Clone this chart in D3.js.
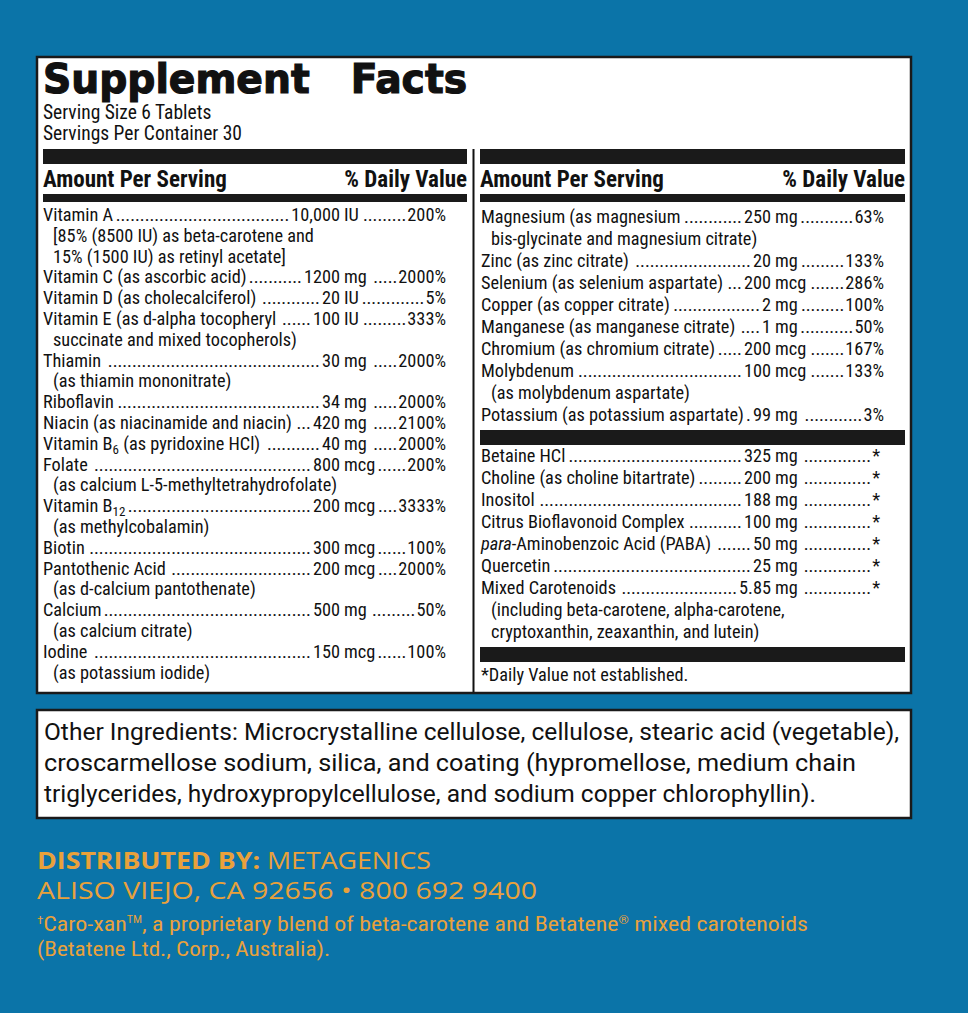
<!DOCTYPE html>
<html><head><meta charset="utf-8">
<script src="https://cdn.jsdelivr.net/npm/d3@7"></script>
<style>body{margin:0;background:#0b74a8;}svg{display:block}</style>
</head><body><svg id="c" width="968" height="1013"></svg>
<script>
const FONT = "'Liberation Sans Narrow','Roboto Condensed',Roboto,sans-serif";
const FS = 18.3;
const leftNames = ["Vitamin A","Vitamin C (as ascorbic acid)","Vitamin D (as cholecalciferol)","Vitamin E (as d-alpha tocopheryl","Thiamin ","Riboflavin","Niacin (as niacinamide and niacin)","Vitamin B_6_ (as pyridoxine HCl)","Folate ","Vitamin B_12_","Biotin","Pantothenic Acid","Calcium ","Iodine "];
const leftAmounts = ["10,000","1200","20","100","30","34","420","40","800","200","300","200","500","150"];
const leftUnits = ["IU","mg","IU","IU","mg","mg","mg","mg","mcg","mcg","mcg","mcg","mg","mcg"];
const leftDV = ["200%","2000%","5%","333%","2000%","2000%","2100%","2000%","200%","3333%","100%","2000%","50%","100%"];
const leftNotes = [["[85% (8500 IU) as beta-carotene and","15% (1500 IU) as retinyl acetate]"],[],[],["succinate and mixed tocopherols)"],["(as thiamin mononitrate)"],[],[],[],["(as calcium L-5-methyltetrahydrofolate)"],["(as methylcobalamin)"],[],["(as d-calcium pantothenate)"],["(as calcium citrate)"],["(as potassium iodide)"]];
const rightNames = ["Magnesium (as magnesium","Zinc (as zinc citrate) ","Selenium (as selenium aspartate)","Copper (as copper citrate) ","Manganese (as manganese citrate)","Chromium (as chromium citrate)","Molybdenum","Potassium (as potassium aspartate)"];
const rightAmounts = ["250","20","200","2","1","200","100","99"];
const rightUnits = ["mg","mg","mcg","mg","mg","mcg","mcg","mg"];
const rightDV = ["63%","133%","286%","100%","50%","167%","133%","3%"];
const rightNotes = [["bis-glycinate and magnesium citrate)"],[],[],[],[],[],["(as molybdenum aspartate)"],[]];
const otherNames = ["Betaine HCl","Choline (as choline bitartrate) ","Inositol","Citrus Bioflavonoid Complex ","*para*-Aminobenzoic Acid (PABA)","Quercetin","Mixed Carotenoids"];
const otherAmounts = ["325","200","188","100","50","25","5.85"];
const otherUnits = ["mg","mg","mg","mg","mg","mg","mg"];
const otherDV = ["*","*","*","*","*","*","*"];
const otherNotes = [[],[],[],[],[],[],["(including beta-carotene, alpha-carotene,","cryptoxanthin, zeaxanthin, and lutein)"]];
const otherIngredients = ["Other Ingredients: Microcrystalline cellulose, cellulose, stearic acid (vegetable),","croscarmellose sodium, silica, and coating (hypromellose, medium chain","triglycerides, hydroxypropylcellulose, and sodium copper chlorophyllin)."];

const svg = d3.select("#c");
svg.append("rect").attr("width",968).attr("height",1013).attr("fill","#0b74a8");
svg.append("rect").attr("x",37).attr("y",57).attr("width",874).attr("height",636).attr("fill","#fff").attr("stroke","#1a1a1a").attr("stroke-width",2.5);
svg.append("text").attr("x",43).attr("y",93).attr("font-family","'DejaVu Sans',sans-serif").attr("font-weight","bold").attr("font-size",40).attr("fill","#111").attr("stroke","#111").attr("stroke-width",1.2).attr("textLength",424).attr("lengthAdjust","spacingAndGlyphs").text("Supplement\u00a0\u00a0\u00a0Facts");
svg.append("text").attr("x",43).attr("y",119).attr("font-family",FONT).attr("font-size",19.5).attr("fill","#111").text("Serving Size 6 Tablets");
svg.append("text").attr("x",43).attr("y",140).attr("font-family",FONT).attr("font-size",19.5).attr("fill","#111").text("Servings Per Container 30");
svg.append("line").attr("x1",473.5).attr("x2",473.5).attr("y1",149).attr("y2",692).attr("stroke","#111").attr("stroke-width",2);

function header(x0,x1){
  svg.append("rect").attr("x",x0).attr("y",149).attr("width",x1-x0).attr("height",15).attr("fill","#1a1a1a");
  svg.append("text").attr("x",x0).attr("y",187).attr("font-family",FONT).attr("font-weight","bold").attr("font-size",23).attr("fill","#111").text("Amount Per Serving");
  svg.append("text").attr("x",x1).attr("y",187).attr("text-anchor","end").attr("font-family",FONT).attr("font-weight","bold").attr("font-size",23).attr("fill","#111").text("% Daily Value");
  svg.append("rect").attr("x",x0).attr("y",194).attr("width",x1-x0).attr("height",8).attr("fill","#1a1a1a");
}
header(43,467); header(480,905);

function nameText(g,x,y,s){
  const t=g.append("text").attr("x",x).attr("y",y).attr("font-family",FONT).attr("font-size",FS).attr("fill","#111");
  const sub=s.split("_");
  sub.forEach((p,i)=>{
    if(i%2===1){ t.append("tspan").attr("font-size",13).attr("dy",4).text(p); }
    else {
      const parts=p.split("*");
      parts.forEach((q,j)=>{ const ts=t.append("tspan").text(q); if(j%2===1) ts.attr("font-style","italic"); if(i>0&&j===0) ts.attr("dy",-4);});
    }
  });
  return t;
}
function dots(g,x0,x1,y){
  if(x1-x0<3) return;
  const probe=g.append("text").attr("font-family",FONT).attr("font-size",FS).text("..........");
  const w=probe.node().getComputedTextLength()/10; probe.remove();
  const n=Math.floor((x1-x0-1)/w);
  g.append("text").attr("x",x1-1).attr("y",y).attr("text-anchor","end").attr("font-family",FONT).attr("font-size",FS).attr("fill","#111").text(".".repeat(Math.max(n,0)));
}
function rows(names,amts,units,dvs,notes,x0,numEnd,dvEnd,y0,dy){
  const g=svg.append("g");
  let y=y0;
  names.forEach((nm,i)=>{
    const t=nameText(g,x0,y,nm);
    const ne=x0+t.node().getComputedTextLength()+2;
    const a=g.append("text").attr("x",numEnd).attr("y",y).attr("text-anchor","end").attr("font-family",FONT).attr("font-size",FS).attr("fill","#111").text(amts[i]);
    const aw=a.node().getComputedTextLength();
    dots(g,ne,numEnd-aw-1,y);
    const u=g.append("text").attr("x",numEnd+4).attr("y",y).attr("font-family",FONT).attr("font-size",FS).attr("fill","#111").text(units[i]);
    const ue=numEnd+4+u.node().getComputedTextLength();
    const d=g.append("text").attr("x",dvEnd).attr("y",y).attr("text-anchor","end").attr("font-family",FONT).attr("font-size",FS).attr("fill","#111").text(dvs[i]);
    dots(g,ue+2,dvEnd-d.node().getComputedTextLength(),y);
    y+=dy;
    notes[i].forEach(n=>{ nameText(g,x0+10,y,n); y+=dy; });
  });
}
rows(leftNames,leftAmounts,leftUnits,leftDV,leftNotes,43,340,446,221,20.8);
rows(rightNames,rightAmounts,rightUnits,rightDV,rightNotes,481,771,884,223,22);
svg.append("rect").attr("x",480).attr("y",430).attr("width",425).attr("height",15).attr("fill","#1a1a1a");
rows(otherNames,otherAmounts,otherUnits,otherDV,otherNotes,481,771,880,462,22);
svg.append("rect").attr("x",480).attr("y",647).attr("width",425).attr("height",15).attr("fill","#1a1a1a");
svg.append("text").attr("x",481).attr("y",681).attr("font-family",FONT).attr("font-size",FS).attr("fill","#111").text("*Daily Value not established.");

svg.append("rect").attr("x",37).attr("y",710).attr("width",874).attr("height",108).attr("fill","#fff").attr("stroke","#1a1a1a").attr("stroke-width",2.5);
otherIngredients.forEach((l,i)=>svg.append("text").attr("x",44).attr("y",740+i*31).attr("font-family","Roboto,sans-serif").attr("font-size",24).attr("fill","#111").attr("textLength",[855,812,772][i]).attr("lengthAdjust","spacingAndGlyphs").text(l));

const OR="#e9a13b";
const d1=svg.append("text").attr("x",37).attr("y",869).attr("font-family","'Open Sans',sans-serif").attr("font-size",24).attr("fill",OR).attr("textLength",394).attr("lengthAdjust","spacingAndGlyphs");
d1.append("tspan").attr("font-weight","bold").text("DISTRIBUTED BY: ");d1.append("tspan").text("METAGENICS");
svg.append("text").attr("x",37).attr("y",899).attr("font-family","'Open Sans',sans-serif").attr("font-size",24).attr("fill",OR).attr("textLength",500).attr("lengthAdjust","spacingAndGlyphs").text("ALISO VIEJO, CA 92656 • 800 692 9400");
const f1=svg.append("text").attr("x",37).attr("y",931).attr("font-family",FONT).attr("font-size",20).attr("fill",OR).attr("textLength",771).attr("lengthAdjust","spacingAndGlyphs");
f1.append("tspan").attr("font-size",11).attr("dy",-7).text("†");
f1.append("tspan").attr("dy",7).text("Caro-xan");
f1.append("tspan").attr("font-size",10).attr("dy",-8).text("TM");
f1.append("tspan").attr("dy",8).text(", a proprietary blend of beta-carotene and Betatene");
f1.append("tspan").attr("font-size",11).attr("dy",-7).text("®");
f1.append("tspan").attr("dy",7).text(" mixed carotenoids");
svg.append("text").attr("x",37).attr("y",956).attr("font-family",FONT).attr("font-size",20).attr("fill",OR).attr("textLength",293).attr("lengthAdjust","spacingAndGlyphs").text("(Betatene Ltd., Corp., Australia).");
</script></body></html>
